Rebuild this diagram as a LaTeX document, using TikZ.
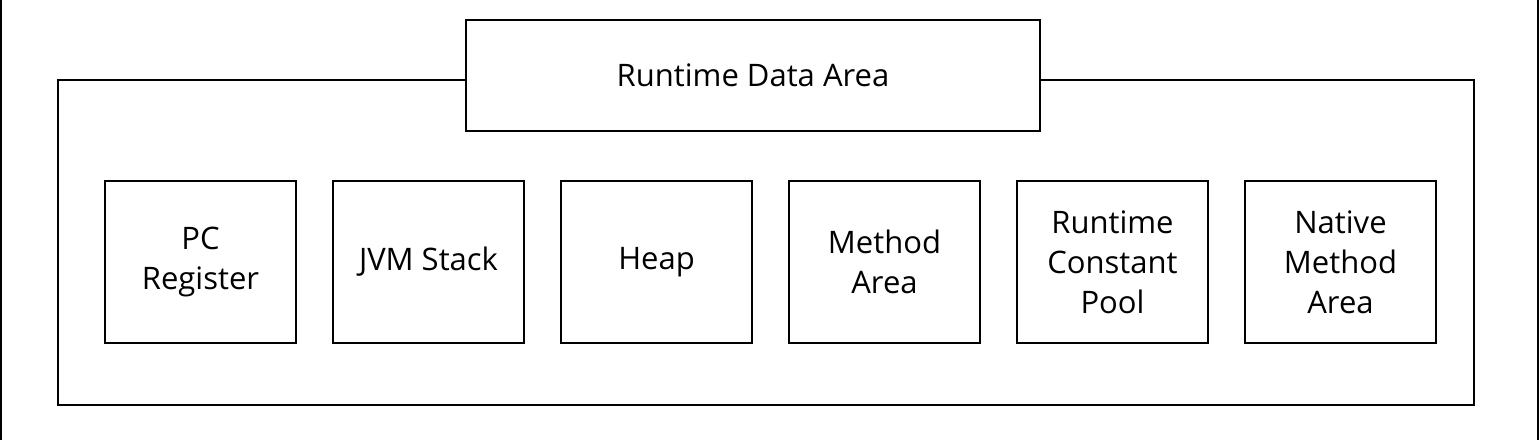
\documentclass[tikz,border=0pt]{standalone}
\usepackage{fontspec}
\setmainfont{Open Sans}
\begin{document}
\begin{tikzpicture}[x=1pt,y=-1pt,
  box/.style={draw=black,line width=2pt,rectangle,inner sep=0pt,align=center,
    font=\fontsize{31}{40}\selectfont},
  part/.style={box,minimum width=191pt,minimum height=162pt}]
\useasboundingbox (0,0) rectangle (1540,440);
\draw[line width=2pt] (1,0) -- (1,440);
\draw[line width=2pt] (1538,0) -- (1538,440);
\node[draw=black,line width=2pt,rectangle,minimum width=1416pt,minimum height=325pt] (outer) at (766,242.5) {};
\node[box,fill=white,minimum width=574pt,minimum height=111pt] (title) at (753,75.5) {Runtime Data Area};
\node[part] (pc) at (200.5,262) {PC\\Register};
\node[part] (jvm) at (428.5,262) {JVM Stack};
\node[part] (heap) at (656.5,262) {Heap};
\node[part] (method) at (884.5,262) {Method\\Area};
\node[part] (rcp) at (1112.5,262) {Runtime\\Constant\\Pool};
\node[part] (native) at (1340.5,262) {Native\\Method\\Area};
\end{tikzpicture}
\end{document}
